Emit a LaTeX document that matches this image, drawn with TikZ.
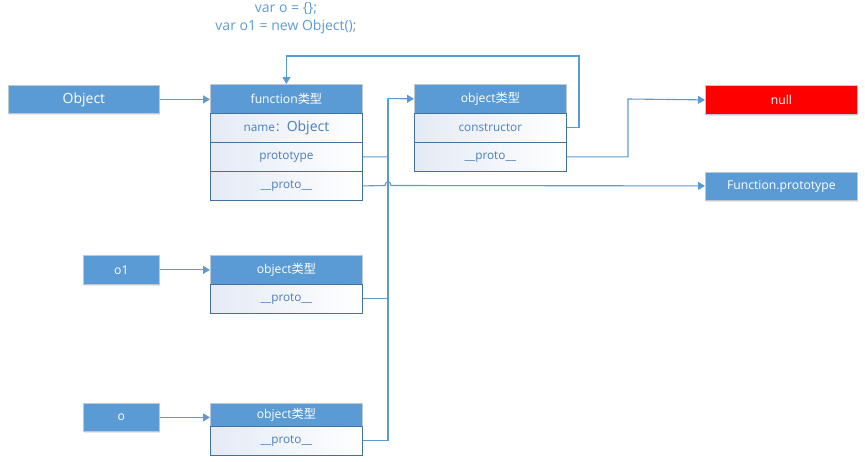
\documentclass[tikz,border=0pt]{standalone}
\usepackage{fontspec}
\setmainfont{Open Sans}
\newfontfamily\cjk{Noto Sans CJK SC}
\usetikzlibrary{arrows.meta,shadows}
\definecolor{hdr}{HTML}{5B9BD5}
\definecolor{hdrline}{HTML}{BFC7D0}
\definecolor{rowline}{HTML}{41719C}
\definecolor{rowtxt}{HTML}{4A7EBB}
\definecolor{rowfill}{HTML}{E4EAF5}
\begin{document}
\begin{tikzpicture}[x=1pt,y=-1pt,
  hbox/.style={draw=hdrline, line width=0.8pt, fill=hdr, text=white, minimum width=152pt, minimum height=29pt,
    inner sep=0pt, anchor=north west, font=\fontsize{12.2}{14}\selectfont,
    drop shadow={shadow xshift=1pt, shadow yshift=-1.5pt, opacity=0.18}},
  rowbox/.style={draw=rowline, line width=0.8pt, left color=rowfill, right color=white, text=rowtxt,
    minimum width=152pt, minimum height=29pt, inner sep=0pt, anchor=north west,
    font=\fontsize{11.8}{14}\selectfont},
  conn/.style={draw=hdr, line width=1.1pt},
  arr/.style={conn, -{Triangle[length=7pt,width=8pt]}},
  code/.style={text=hdr, font=\fontsize{14}{16}\selectfont, inner sep=0pt}]
\useasboundingbox (0,0) rectangle (865,461);

\node[code] (code1) at (286,9) {var o = \{\};};
\node[code] (code2) at (286,27) {var o1 = new Object();};

\node[hbox, minimum width=151pt, minimum height=28pt, font=\fontsize{14}{17}\selectfont] (obj) at (8,85) {Object};

\node[hbox] (fn) at (210,84) {function{\cjk 类型}};
\node[rowbox] (fnname) at (210,113) {name{\cjk ：}{\fontsize{14}{16}\selectfont Object}};
\node[rowbox] (fnproto) at (210,142) {prototype};
\node[rowbox] (fnpr) at (210,171) {\_\_proto\_\_};

\node[hbox] (op) at (414,84) {object{\cjk 类型}};
\node[rowbox] (opc) at (414,113) {constructor};
\node[rowbox] (opp) at (414,142) {\_\_proto\_\_};

\node[hbox, fill=red] (null) at (705,85) {null};
\node[hbox, minimum height=28pt] (fp) at (705,172) {Function.prototype};

\node[hbox, minimum width=76pt] (o1) at (83,255) {o1};
\node[hbox] (o1t) at (210,255) {object{\cjk 类型}};
\node[rowbox] (o1p) at (210,284) {\_\_proto\_\_};

\node[hbox, minimum width=76pt, minimum height=28pt] (o) at (83,403) {o};
\node[hbox, minimum height=23pt] (ot) at (210,403) {object{\cjk 类型}};
\node[rowbox] (otp) at (210,426) {\_\_proto\_\_};

% connectors
\coordinate (loopR) at (579,56);
\coordinate (bus) at (388,98.5);
\coordinate (nullbend) at (628,99);
\coordinate (hopA) at (385,185.5);
\coordinate (hopB) at (391,185.5);

\draw[arr] (obj.east) -- (obj.east -| fn.west);
\draw[arr] (o1.east) -- (o1t.west);
\draw[arr] (o.east) -- (o.east -| ot.west);
\draw[arr] (opc.east) -| (loopR) -| (fn.north);
\draw[arr] (fnproto.east) -| (bus) -- (op.west);
\draw[conn] (o1p.east) -| (bus);
\draw[conn] (otp.east) -| (bus);
\draw[arr] (fnpr.east) -- (hopA) .. controls (385,180.5) and (391,180.5) .. (hopB) -- (fnpr.east -| fp.west);
\draw[arr] (opp.east) -| (nullbend) -- (null.west);
\end{tikzpicture}
\end{document}
